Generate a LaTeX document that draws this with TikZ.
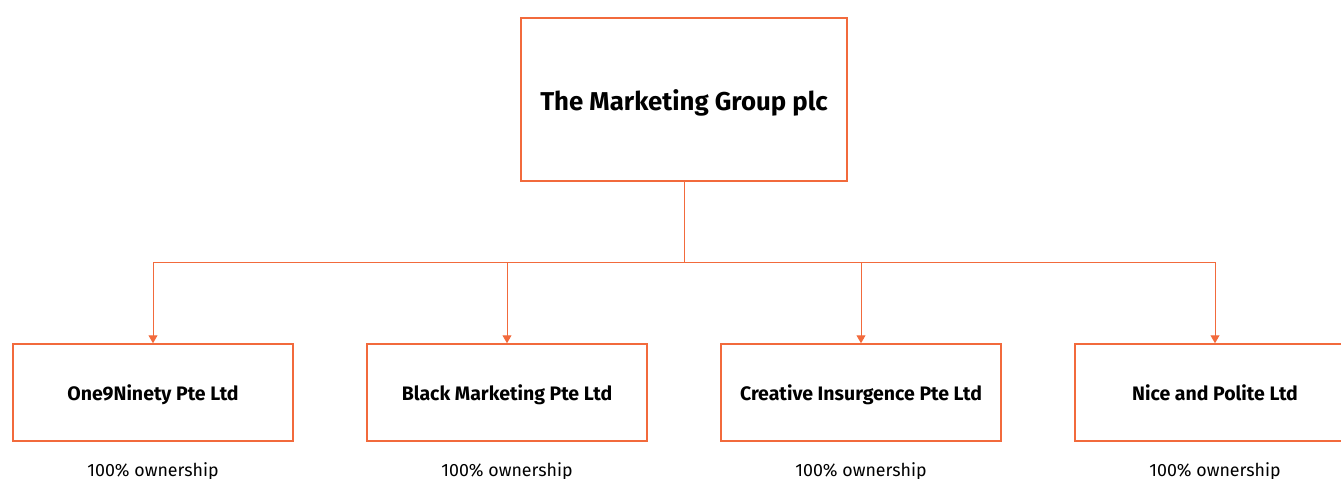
\documentclass[tikz,border=0pt]{standalone}
\usepackage{fontspec}
\setmainfont{Fira Sans}
\usetikzlibrary{arrows.meta}
\definecolor{tmgorange}{HTML}{F26A3C}
\begin{document}
\begin{tikzpicture}[x=1pt,y=-1pt,
  orgbox/.style={draw=tmgorange,line width=1.5pt,fill=white,minimum width=280pt,minimum height=97pt,inner sep=0pt,text height=15pt,text depth=0pt,font=\fontsize{19.5}{22}\selectfont\bfseries},
  topbox/.style={draw=tmgorange,line width=1.5pt,fill=white,minimum width=326pt,minimum height=163pt,inner sep=0pt,text height=21pt,text depth=0pt,font=\fontsize{25.8}{30}\selectfont\bfseries},
  link/.style={draw=tmgorange,line width=1pt},
  arr/.style={link,-{Triangle[width=9pt,length=8pt]}},
  own/.style={font=\fontsize{17.8}{21}\selectfont,inner sep=0pt,anchor=base}]
\useasboundingbox (0,0) rectangle (1341,479);
\clip (0,0) rectangle (1341,479);
\node[topbox] (top) at (684,99.5) {The Marketing Group plc};
\node[orgbox] (c1) at (153,392.5) {One9Ninety Pte Ltd};
\node[orgbox] (c2) at (507,392.5) {Black Marketing Pte Ltd};
\node[orgbox] (c3) at (861,392.5) {Creative Insurgence Pte Ltd};
\node[orgbox] (c4) at (1215,392.5) {Nice and Polite Ltd};
\coordinate (hub) at (684,262);
\draw[link] (top.south) -- (hub);
\draw[link] (c1.north |- hub) -- (c4.north |- hub);
\foreach \c in {c1,c2,c3,c4}{\draw[arr] (\c.north |- hub) -- (\c.north);}
\node[own] (o1) at (153,476) {100\% ownership};
\node[own] (o2) at (507,476) {100\% ownership};
\node[own] (o3) at (861,476) {100\% ownership};
\node[own] (o4) at (1215,476) {100\% ownership};
\end{tikzpicture}
\end{document}
